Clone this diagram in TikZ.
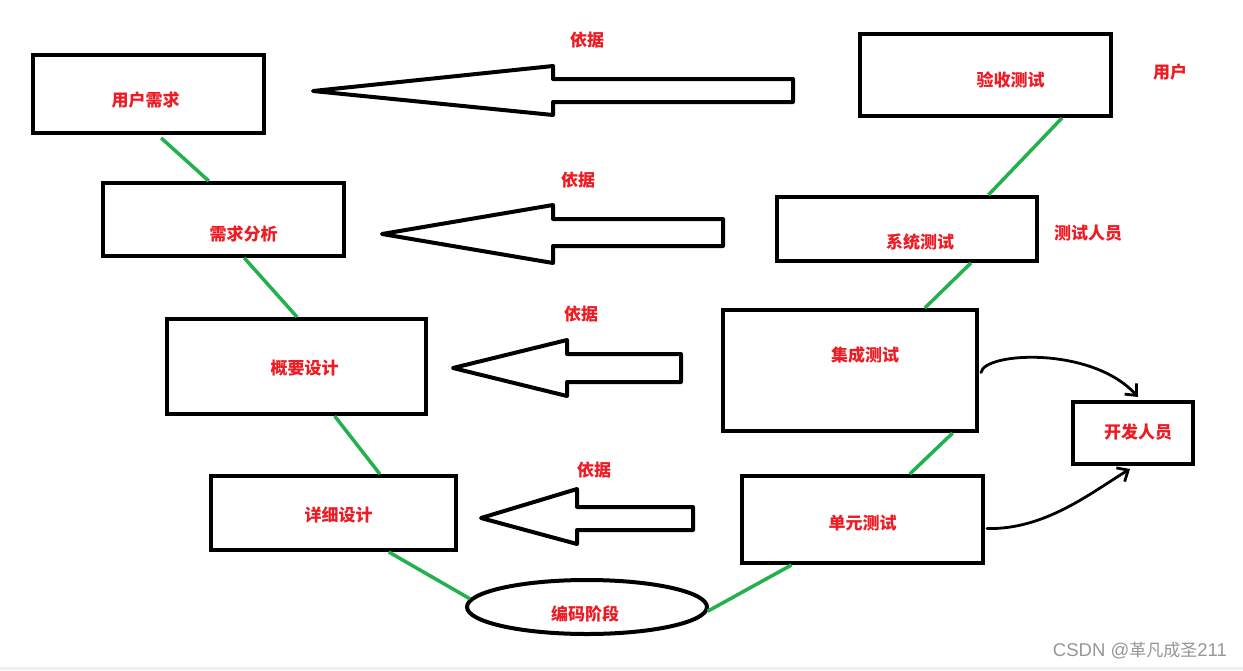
\documentclass[tikz,border=0pt]{standalone}
\usepackage{fontspec}
\newfontfamily\cjk{Noto Sans CJK SC}
\newfontfamily\lat{Liberation Sans}
\usetikzlibrary{calc,shapes.geometric,arrows.meta}
\definecolor{txtred}{RGB}{237,28,36}
\definecolor{lgreen}{RGB}{34,177,76}
\definecolor{wmgray}{RGB}{150,150,150}
\tikzset{
  box/.style={draw=black,line width=4pt,inner sep=0pt,fill=white},
  lbl/.style={text=txtred,font=\cjk\bfseries\fontsize{17}{20}\selectfont,inner sep=0pt},
  link/.style={draw=lgreen,line width=3.5pt},
  bigarrow/.style={draw=black,line width=4pt,line join=round,fill=white},
  handarrow/.style={draw=black,line width=2.8pt,line cap=round,-{Straight Barb[length=9pt,width=16pt,line width=2.8pt]}}
}
\begin{document}
\begin{tikzpicture}[x=1pt,y=-1pt]
\useasboundingbox (0,0) rectangle (1243,670);
\fill[white] (0,0) rectangle (1243,670);
\fill[black!6] (0,667) rectangle (1243,670);
% boxes
\node[box,minimum width=231pt,minimum height=78pt] (yh) at (148.5,94) {};
\node[box,minimum width=241pt,minimum height=73pt] (xq) at (223.5,219.5) {};
\node[box,minimum width=259pt,minimum height=95pt] (gy) at (296.5,366.5) {};
\node[box,minimum width=245pt,minimum height=74pt] (xx) at (333.5,513) {};
\node[box,minimum width=241pt,minimum height=87pt] (dy) at (862.5,519.5) {};
\node[box,minimum width=254pt,minimum height=121pt] (jc) at (850,370.5) {};
\node[box,minimum width=260pt,minimum height=64pt] (xt) at (907,229) {};
\node[box,minimum width=251pt,minimum height=82pt] (ys) at (985.5,75) {};
\node[box,minimum width=120pt,minimum height=62pt] (kf) at (1133,433) {};
\node[box,ellipse,minimum width=240pt,minimum height=54pt] (bm) at (587,607) {};
% box texts
\node[lbl] (tyh) at ($(yh.center)+(-3,6)$) {用户需求};
\node[lbl] (txq) at ($(xq.center)+(20,15)$) {需求分析};
\node[lbl] (tgy) at ($(gy.center)+(8,2)$) {概要设计};
\node[lbl] (txx) at ($(xx.center)+(5,2)$) {详细设计};
\node[lbl] (tdy) at ($(dy.center)+(0,4)$) {单元测试};
\node[lbl] (tjc) at ($(jc.center)+(15,-15)$) {集成测试};
\node[lbl] (txt) at ($(xt.center)+(13,13)$) {系统测试};
\node[lbl] (tys) at ($(ys.center)+(25,5)$) {验收测试};
\node[lbl] (tkf) at ($(kf.center)+(5,-1)$) {开发人员};
\node[lbl] (tbm) at ($(bm.center)+(-2,7)$) {编码阶段};
% side labels
\node[lbl] (yj1) at (587,40) {依据};
\node[lbl] (yj2) at (578,180) {依据};
\node[lbl] (yj3) at (581,314) {依据};
\node[lbl] (yj4) at (594,470) {依据};
\node[lbl] (yhu) at (1170,72) {用户};
\node[lbl] (csr) at (1088,233) {测试人员};
% green links
\draw[link] ($(yh.south west)!0.554!(yh.south east)+(0,3)$) -- ($(xq.north west)!0.44!(xq.north east)$);
\draw[link] ($(xq.south west)!0.585!(xq.south east)$) -- ($(gy.north west)!0.502!(gy.north east)$);
\draw[link] ($(gy.south west)!0.645!(gy.south east)$) -- ($(xx.north west)!0.686!(xx.north east)$);
\draw[link] ($(xx.south west)!0.722!(xx.south east)$) -- (bm.176);
\draw[link] (bm.358) -- ($(dy.south west)!0.21!(dy.south east)$);
\draw[link] ($(dy.north west)!0.693!(dy.north east)$) -- ($(jc.south west)!0.898!(jc.south east)$);
\draw[link] ($(jc.north west)!0.79!(jc.north east)$) -- ($(xt.south west)!0.742!(xt.south east)$);
\draw[link] ($(xt.north west)!0.808!(xt.north east)$) -- ($(ys.south west)!0.80!(ys.south east)$);
% hollow arrows
\draw[bigarrow] (313,91) -- (553,66) -- (553,79) -- (793,79) -- (793,102) -- (553,102) -- (553,115) -- cycle;
\draw[bigarrow] (382,234) -- (553,205) -- (553,219) -- (723,219) -- (723,246) -- (553,246) -- (553,263) -- cycle;
\draw[bigarrow] (453,368) -- (567,340) -- (567,354) -- (681,354) -- (681,382) -- (567,382) -- (567,396) -- cycle;
\draw[bigarrow] (481,518) -- (577,489) -- (577,507) -- (693,507) -- (693,530) -- (577,530) -- (577,544) -- cycle;
% hand-drawn arrows to developers
\draw[handarrow] ($(jc.east)+(2,2)$) .. controls (984,352) and (1092,346) .. ($(kf.north)+(5,-3)$);
\draw[handarrow] ($(dy.east)+(2,9)$) .. controls (1045,530) and (1092,492) .. ($(kf.south)+(-3,3)$);
% watermark
\node[text=wmgray,font=\lat\fontsize{18.5}{20}\selectfont,anchor=east,inner sep=0pt] (wm) at (1227,651) {CSDN @{\cjk\fontsize{17}{20}\selectfont 革凡成圣}211};
\end{tikzpicture}
\end{document}
